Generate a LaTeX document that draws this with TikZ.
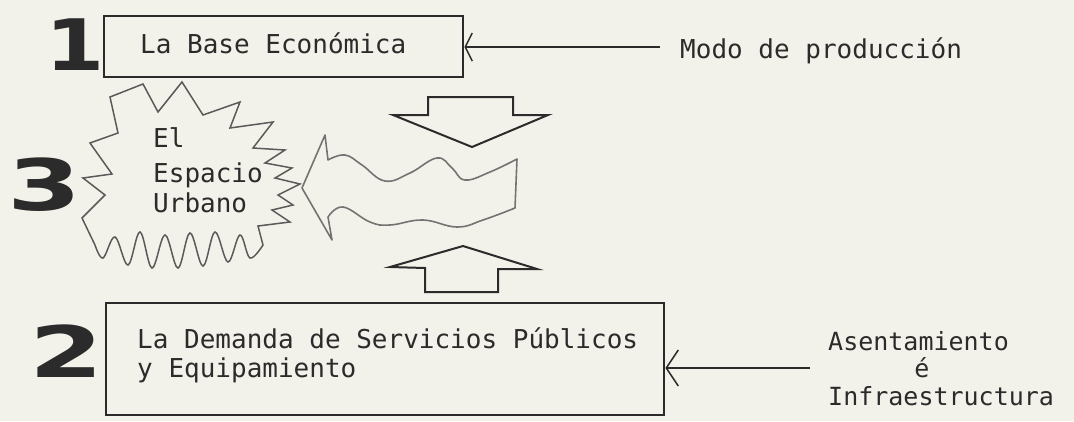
\documentclass[tikz,border=0pt]{standalone}
\usepackage{fontspec}
\setmonofont{DejaVu Sans Mono}
\newfontfamily\digitfont{DejaVu Sans}
\usetikzlibrary{arrows.meta}
\definecolor{paper}{HTML}{F3F2EA}
\definecolor{ink}{HTML}{2B2B2B}
\definecolor{softink}{HTML}{5A5A5A}
\tikzset{
  boxframe/.style={draw=ink, line width=2.4pt, inner sep=0pt, anchor=north west},
  lbl/.style={font=\ttfamily\fontsize{26}{26}\selectfont, text=ink, inner sep=0pt, anchor=base west},
  digit/.style={font=\digitfont\bfseries\fontsize{71}{71}\selectfont, text=ink, inner sep=0pt, anchor=base},
  feed/.style={draw=ink, line width=1.5pt},
  blockarrow/.style={draw=ink, line width=2pt, line join=miter},
  burst/.style={draw=softink, line width=1.5pt, line join=miter},
  wavy/.style={draw=softink!85, line width=1.6pt, line join=round}
}
\begin{document}
\begin{tikzpicture}[x=1pt,y=-1pt]
\fill[paper] (0,0) rectangle (1074,421);
\useasboundingbox (0,0) rectangle (1074,421);

% boxes
\node[boxframe, minimum width=359pt, minimum height=61pt] (b1) at (103,15) {};
\node[boxframe, minimum width=558pt, minimum height=112pt] (b2) at (105,302) {};

% digits
\node[digit] (d1) at (75,70) {\scalebox{1.2}[1]{1}};
\node[digit] (d3) at (45,210) {\scalebox{1.5}[1]{3}};
\node[digit] (d2) at (67,377) {\scalebox{1.5}[1]{2}};

% texts
\node[lbl] (t1) at (140,53) {La Base Económica};
\node[lbl] (tm) at (680,58) {Modo de producción};
\node[lbl] (e1) at (153,147) {El};
\node[lbl] (e2) at (153,182) {Espacio};
\node[lbl] (e3) at (153,212) {Urbano};
\node[lbl] (t2a) at (137,348) {La Demanda de Servicios Públicos};
\node[lbl] (t2b) at (137,377) {y Equipamiento};
\node[lbl, font=\ttfamily\fontsize{25}{25}\selectfont] (s1) at (828,350) {Asentamiento};
\node[lbl, font=\ttfamily\fontsize{25}{25}\selectfont, anchor=base] (s2) at (922,377) {é};
\node[lbl, font=\ttfamily\fontsize{25}{25}\selectfont] (s3) at (828,405) {Infraestructura};

% feeding arrows
\coordinate (m1) at (660,47);
\coordinate (m2) at (810,368);
\draw[feed, -{Straight Barb[length=7pt,width=28pt,line width=1.5pt]}] (m1) -- (m1 -| b1.east);
\draw[feed, -{Straight Barb[length=12pt,width=36pt,line width=1.5pt]}] (m2) -- (m2 -| b2.east);

% block arrows
\draw[blockarrow] (428,97) -- (513,97) -- (513,115) -- (548,115) -- (472,147) -- (393,115) -- (428,115) -- cycle;
\draw[blockarrow] (463,246) -- (537,269) -- (498,269) -- (498,292) -- (425,292) -- (425,268) -- (390,267) -- cycle;

% wavy arrow
\draw[wavy] (302,188) -- (325,135) -- (328,160)
  -- plot[smooth, tension=0.7] coordinates {(328,160) (345,155) (362,165) (385,181) (410,173) (437,158) (452,168) (465,180) (490,172) (517,159)}
  -- (515,208)
  -- plot[smooth, tension=0.7] coordinates {(515,208) (483,220) (457,227) (423,220) (390,225) (370,222) (343,207) (328,217)}
  -- (332,240) -- cycle;

% starburst
\draw[burst] (118,133) -- (110,97) -- (143,84) -- (158,112) -- (182,82) -- (203,115) -- (240,102) -- (230,128)
  -- (273,122) -- (253,148) -- (285,150) -- (265,163) -- (292,168) -- (275,178) -- (300,184) -- (278,195)
  -- (293,205) -- (272,210) -- (290,222) -- (258,226) -- (263,245)
  -- plot[smooth, tension=0.6] coordinates {(263,245) (250,258) (240,235) (228,262) (215,232) (203,266) (190,233) (178,268) (165,235) (152,268) (140,232) (128,265) (115,237) (103,258) (95,245)}
  -- (82,218) -- (105,195) -- (83,178) -- (112,174) -- (90,143) -- cycle;
\end{tikzpicture}
\end{document}
